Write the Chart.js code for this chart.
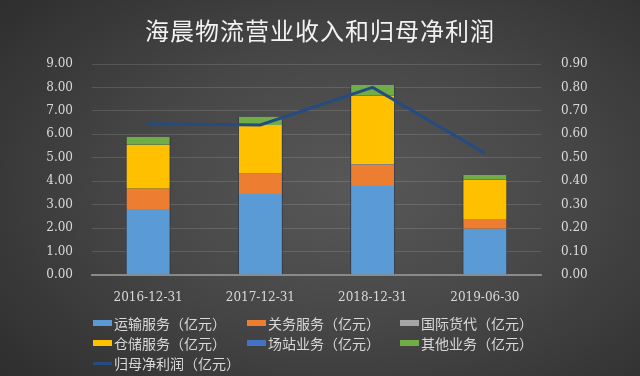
<!DOCTYPE html>
<html>
<head>
<meta charset="utf-8">
<script src="https://cdn.jsdelivr.net/npm/chart.js@4"></script>
<style>
  html, body { margin: 0; padding: 0; }
  body {
    width: 640px; height: 376px; overflow: hidden; position: relative;
    background: radial-gradient(ellipse 75% 80% at 55% 50%, #585858 0%, #474747 45%, #2c2c2c 100%);
    font-family: "Noto Sans CJK SC", sans-serif;
  }
  #wrap { position: absolute; left: 0; top: 0; width: 640px; height: 376px; }
  #title {
    position: absolute; left: 0; top: 12px; width: 640px; text-align: center;
    color: #f2f2f2; font-size: 24px; letter-spacing: 1px;
  }
  #legend { position: absolute; left: 0; top: 313px; width: 640px; }
  .item { position: absolute; color: #d9d9d9; font-size: 14px; line-height: 20px; white-space: nowrap; }
  .item i { display: inline-block; width: 19px; height: 6px; margin-right: 2px; vertical-align: middle; position: relative; top: -2px; }
  .item i.line { height: 3px; }
</style>
</head>
<body>
<div id="wrap"><canvas id="c" width="640" height="376"></canvas></div>
<div id="title">海晨物流营业收入和归母净利润</div>
<div id="legend"></div>
<script>
  const categories = ['2016-12-31', '2017-12-31', '2018-12-31', '2019-06-30'];
  const transport = [2.82, 3.46, 3.80, 1.97];
  const customs = [0.86, 0.86, 0.90, 0.42];
  const forwarding = [0.00, 0.00, 0.03, 0.00];
  const storage = [1.88, 2.08, 2.92, 1.67];
  const station = [0.00, 0.00, 0.00, 0.00];
  const other = [0.34, 0.35, 0.45, 0.21];
  const netProfit = [0.645, 0.64, 0.80, 0.52];
  const leftTicks = [0, 1, 2, 3, 4, 5, 6, 7, 8, 9];

  const COLORS = {
    transport: '#5b9bd5',
    customs: '#ed7d31',
    forwarding: '#a5a5a5',
    storage: '#ffc000',
    station: '#4472c4',
    other: '#70ad47',
    profit: '#264b80'
  };

  function barSet(label, data, color) {
    return {
      type: 'bar', label, data,
      backgroundColor: color,
      borderColor: 'rgba(30,40,60,0.6)',
      borderWidth: { left: 1, right: 1 },
      stack: 's', yAxisID: 'y',
      barPercentage: 0.4, categoryPercentage: 1,
      order: 2
    };
  }

  const datasets = [
    barSet('运输服务（亿元）', transport, COLORS.transport),
    barSet('关务服务（亿元）', customs, COLORS.customs),
    barSet('国际货代（亿元）', forwarding, COLORS.forwarding),
    barSet('仓储服务（亿元）', storage, COLORS.storage),
    barSet('场站业务（亿元）', station, COLORS.station),
    barSet('其他业务（亿元）', other, COLORS.other),
    {
      type: 'line', label: '归母净利润（亿元）', data: netProfit,
      borderColor: COLORS.profit, backgroundColor: COLORS.profit,
      borderWidth: 3, pointRadius: 0, tension: 0,
      yAxisID: 'y1', order: 1
    }
  ];

  const tickFont = { family: "'DejaVu Serif', 'Liberation Serif', serif", size: 12 };
  const tickColor = '#d9d9d9';

  new Chart(document.getElementById('c'), {
    data: { labels: categories, datasets },
    options: {
      responsive: false,
      animation: false,
      layout: { padding: { top: 64, bottom: 71, left: 0, right: 0 } },
      plugins: {
        legend: { display: false },
        title: { display: false },
        tooltip: { enabled: false }
      },
      scales: {
        x: {
          stacked: true,
          grid: { display: false },
          border: { color: '#8a8a8a', width: 2 },
          ticks: { color: tickColor, font: tickFont, padding: 8 },
          afterFit: s => { s.height = 30; }
        },
        y: {
          stacked: true, position: 'left',
          min: 0, max: 9,
          afterBuildTicks: s => { s.ticks = leftTicks.map(v => ({ value: v })); },
          grid: { color: 'rgba(255,255,255,0.13)', drawTicks: false },
          border: { display: false },
          ticks: { color: tickColor, font: tickFont, padding: 19, callback: v => v.toFixed(2) },
          afterFit: s => { s.width = 92; }
        },
        y1: {
          position: 'right',
          min: 0, max: 0.9,
          afterBuildTicks: s => { s.ticks = leftTicks.map(v => ({ value: v / 10 })); },
          grid: { display: false },
          border: { display: false },
          ticks: { color: tickColor, font: tickFont, padding: 12, callback: v => v.toFixed(2) },
          afterFit: s => { s.width = 99; }
        }
      }
    }
  });

  // legend laid out in three columns like the original
  const cols = [93, 247, 400];
  const legend = document.getElementById('legend');
  datasets.forEach((d, i) => {
    const el = document.createElement('div');
    el.className = 'item';
    el.style.left = cols[i % 3] + 'px';
    el.style.top = Math.floor(i / 3) * 20 + 'px';
    const box = document.createElement('i');
    if (d.type === 'line') box.className = 'line';
    box.style.background = d.type === 'line' ? d.borderColor : d.backgroundColor;
    el.appendChild(box);
    el.appendChild(document.createTextNode(d.label));
    legend.appendChild(el);
  });
</script>
</body>
</html>
